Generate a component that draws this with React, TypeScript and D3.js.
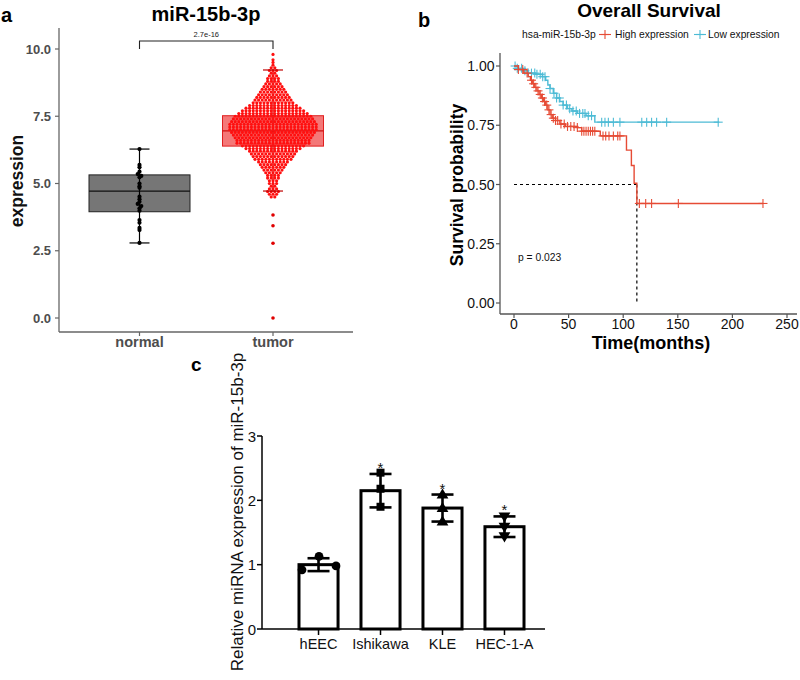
import React from 'react';
import * as d3 from 'd3';

const FONT = "'Liberation Sans', Arial, Helvetica, sans-serif";

// ---------- Panel a data ----------
const groups = ['normal', 'tumor'];
const boxQ1 = [3.95, 6.39];
const boxMedian = [4.72, 6.96];
const boxQ3 = [5.32, 7.52];
const whiskerLow = [2.79, 4.72];
const whiskerHigh = [6.28, 9.22];
const yTicksA = [0, 2.5, 5, 7.5, 10];
const normalValues = [6.28, 5.69, 5.6, 5.44, 5.35, 5.28, 5.23, 5.0, 4.9, 4.84, 4.51, 4.41, 4.32, 4.24, 4.16, 4.08, 3.99, 3.64, 3.54, 3.35, 3.27, 2.79];
const tumorBinStart = 4.5;
const tumorBinStep = 0.1;
const tumorBinCounts = [2, 3, 4, 3, 2, 3, 3, 4, 4, 5, 6, 7, 8, 9, 11, 12, 13, 14, 16, 18, 21, 21, 22, 23, 24, 25, 25, 25, 24, 23, 22, 20, 18, 16, 14, 12, 11, 10, 9, 8, 7, 6, 5, 4, 4, 3, 2, 3, 2, 1, 1, 1, 0, 1];
const tumorOutliers = [3.83, 3.43, 2.78, 0.0];
const pValueA = '2.7e-16';

// ---------- Panel b data ----------
const highSteps: [number, number][] = [[0, 1.0], [4, 0.985], [9, 0.97], [13, 0.955], [15, 0.94], [17, 0.925], [19, 0.91], [21, 0.895], [23, 0.88], [25, 0.865], [27, 0.85], [29, 0.835], [31, 0.815], [33, 0.795], [35, 0.78], [38, 0.77], [42, 0.755], [47, 0.745], [58, 0.74], [62, 0.725], [79, 0.705], [103, 0.645], [107.5, 0.58], [110, 0.505], [112.5, 0.42]];
const highEnd = 228;
const highCensor = [4, 8, 12, 16, 18, 20, 22, 24, 26, 28, 30, 32, 34, 36, 38, 40, 43, 46, 49, 52, 55, 58, 62, 64, 66, 68, 70, 72, 74, 81.5, 84, 87, 91, 95, 97, 114.8, 120.6, 126, 150.5, 228];
const lowSteps: [number, number][] = [[0, 1.0], [3, 0.99], [8, 0.98], [13, 0.97], [20, 0.965], [26, 0.955], [29, 0.94], [31, 0.92], [33, 0.905], [36, 0.885], [39, 0.865], [42, 0.85], [45, 0.835], [49, 0.82], [53, 0.81], [58, 0.8], [66, 0.79], [74, 0.763]];
const lowEnd = 188;
const lowCensor = [1, 3, 7, 10, 13, 16, 19, 21, 24, 26.3, 28.4, 33, 36.6, 39, 41.5, 45, 48, 51, 54, 57, 60, 63, 65, 68, 71, 80.3, 83.3, 86.4, 91, 97, 117, 121.5, 126, 130.6, 139.8, 187];
const medianTime = 112.5;
const xTicksB = [0, 50, 100, 150, 200, 250];
const yTicksB = [0, 0.25, 0.5, 0.75, 1.0];
const pValueB = 'p = 0.023';

// ---------- Panel c data ----------
const cellLines = ['hEEC', 'Ishikawa', 'KLE', 'HEC-1-A'];
const cellMeans = [1.0, 2.15, 1.88, 1.59];
const cellSD = [0.1, 0.26, 0.21, 0.16];
const cellReplicates = [[0.92, 1.13, 0.98], [2.43, 2.18, 1.9], [2.08, 1.87, 1.66], [1.76, 1.6, 1.45]];
const cellStars = ['', '*', '*', '*'];
const yTicksC = [0, 1, 2, 3];

const RED = '#E64B35';
const BLUE = '#4DBBD5';

function stackDots(values: number[], step: number) {
  // dotplot: group values into bins, stack centered horizontally
  const m = new Map<number, number[]>();
  values.forEach(v => {
    const k = Math.round(v / step);
    if (!m.has(k)) m.set(k, []);
    m.get(k)!.push(v);
  });
  const out: { v: number; i: number; n: number }[] = [];
  m.forEach(arr => arr.forEach((v, i) => out.push({ v, i, n: arr.length })));
  return out;
}

function survAt(steps: [number, number][], t: number) {
  let s = steps[0][1];
  for (const [tt, ss] of steps) { if (tt <= t) s = ss; }
  return s;
}

export default function App() {
  // ---- panel a scales
  const ya = d3.scaleLinear().domain([0, 10]).range([318, 49]);
  const xa = d3.scalePoint<string>().domain(groups).range([139.5, 273]);
  const boxHalf = 50.5;
  const capHalf = 10;
  const dotSpacing = 3.6;

  const tumorValues: number[] = [];
  tumorBinCounts.forEach((c, i) => {
    for (let k = 0; k < c; k++) tumorValues.push(+(tumorBinStart + i * tumorBinStep).toFixed(2));
  });
  const tumorDots = stackDots(tumorValues, tumorBinStep);
  const normalDots = stackDots(normalValues, 0.1);

  // ---- panel b scales
  const xb = d3.scaleLinear().domain([0, 250]).range([514, 787]);
  const yb = d3.scaleLinear().domain([0, 1]).range([303, 66]);
  const stepLine = d3.line<[number, number]>().x(d => xb(d[0])).y(d => yb(d[1])).curve(d3.curveStepAfter);
  const highPath = stepLine([...highSteps, [highEnd, highSteps[highSteps.length - 1][1]]]);
  const lowPath = stepLine([...lowSteps, [lowEnd, lowSteps[lowSteps.length - 1][1]]]);

  // ---- panel c scales
  const xc = d3.scaleBand<string>().domain(cellLines).range([280.4, 542.6]).paddingInner(0.37).paddingOuter(0.3);
  const yc = d3.scaleLinear().domain([0, 3]).range([629, 436]);
  const symbols = [d3.symbolCircle, d3.symbolSquare, d3.symbolTriangle, d3.symbolTriangle];
  const symSize = [60, 64, 60, 60];

  const plus = (cx: number, cy: number, color: string, key: string, h = 4.5) => (
    <g key={key} stroke={color} strokeWidth={1.1}>
      <line x1={cx} x2={cx} y1={cy - h} y2={cy + h} />
      <line x1={cx - h} x2={cx + h} y1={cy} y2={cy} />
    </g>
  );

  return (
    <svg width={800} height={680} style={{ position: 'absolute', left: 0, top: 0, background: '#fff' }} fontFamily={FONT}>
      {/* ================= Panel a ================= */}
      <text x={1} y={22} fontSize={20} fontWeight="bold">a</text>
      <text x={206} y={21} fontSize={20} fontWeight="bold" textAnchor="middle">miR-15b-3p</text>
      <text transform="translate(23,181) rotate(-90)" fontSize={17.5} fontWeight="bold" textAnchor="middle" fill="#111">expression</text>
      {/* axes */}
      <line x1={59} x2={59} y1={28} y2={332} stroke="#666" strokeWidth={1.3} />
      <line x1={59} x2={353} y1={332} y2={332} stroke="#666" strokeWidth={1.3} />
      {yTicksA.map(t => (
        <g key={'ya' + t}>
          <line x1={55} x2={59} y1={ya(t)} y2={ya(t)} stroke="#666" strokeWidth={1.2} />
          <text x={51} y={ya(t) + 4.5} fontSize={13} fontWeight="bold" textAnchor="end" fill="#4d4d4d">{t.toFixed(1)}</text>
        </g>
      ))}
      {groups.map(g => (
        <g key={'xa' + g}>
          <line x1={xa(g)!} x2={xa(g)!} y1={332} y2={336} stroke="#666" strokeWidth={1.2} />
          <text x={xa(g)!} y={347} fontSize={14.5} fontWeight="bold" textAnchor="middle" fill="#4d4d4d">{g}</text>
        </g>
      ))}
      {/* normal box */}
      {(() => {
        const cx = xa('normal')!;
        return (
          <g>
            <rect x={cx - boxHalf} width={boxHalf * 2} y={ya(boxQ3[0])} height={ya(boxQ1[0]) - ya(boxQ3[0])} fill="#767676" stroke="#222" strokeWidth={1} />
            <line x1={cx - boxHalf} x2={cx + boxHalf} y1={ya(boxMedian[0])} y2={ya(boxMedian[0])} stroke="#111" strokeWidth={1.3} />
            <line x1={cx} x2={cx} y1={ya(whiskerLow[0])} y2={ya(whiskerHigh[0])} stroke="#000" strokeWidth={1.2} />
            {[whiskerLow[0], whiskerHigh[0]].map((w, i) => (
              <line key={'nc' + i} x1={cx - capHalf} x2={cx + capHalf} y1={ya(w)} y2={ya(w)} stroke="#000" strokeWidth={1.2} />
            ))}
            {normalDots.map((d, i) => (
              <circle key={'nd' + i} cx={cx + (d.i - (d.n - 1) / 2) * dotSpacing} cy={ya(d.v)} r={2.1} fill="#000" />
            ))}
          </g>
        );
      })()}
      {/* tumor box */}
      {(() => {
        const cx = xa('tumor')!;
        return (
          <g>
            <rect x={cx - boxHalf} width={boxHalf * 2} y={ya(boxQ3[1])} height={ya(boxQ1[1]) - ya(boxQ3[1])} fill="#F47878" stroke="#E02020" strokeWidth={1} />
            <line x1={cx - boxHalf} x2={cx + boxHalf} y1={ya(boxMedian[1])} y2={ya(boxMedian[1])} stroke="#D01010" strokeWidth={1.2} />
            <line x1={cx} x2={cx} y1={ya(whiskerLow[1])} y2={ya(whiskerHigh[1])} stroke="#D00000" strokeWidth={1.2} />
            {tumorDots.map((d, i) => (
              <circle key={'td' + i} cx={cx + (d.i - (d.n - 1) / 2) * dotSpacing} cy={ya(d.v)} r={1.6} fill="#FF1010" />
            ))}
            {tumorOutliers.map((v, i) => (
              <circle key={'to' + i} cx={cx} cy={ya(v)} r={1.8} fill="#E00000" />
            ))}
            {[whiskerLow[1], whiskerHigh[1]].map((w, i) => (
              <line key={'tc' + i} x1={cx - capHalf} x2={cx + capHalf} y1={ya(w)} y2={ya(w)} stroke="#C00000" strokeWidth={1.2} />
            ))}
          </g>
        );
      })()}
      {/* significance bracket */}
      <path d={`M${xa('normal')},${ya(10)} V41 H${xa('tumor')} V${ya(10)}`} fill="none" stroke="#222" strokeWidth={1.1} />
      <text x={(xa('normal')! + xa('tumor')!) / 2} y={37} fontSize={7.5} textAnchor="middle" fill="#222">{pValueA}</text>

      {/* ================= Panel b ================= */}
      <text x={418} y={27} fontSize={20} fontWeight="bold">b</text>
      <text x={649} y={17} fontSize={19} fontWeight="bold" textAnchor="middle">Overall Survival</text>
      {/* legend */}
      <text x={522} y={38} fontSize={10.3} fill="#111">hsa-miR-15b-3p</text>
      {plus(605, 34.5, RED, 'lgr', 4.5)}
      <line x1={599} x2={611} y1={34.5} y2={34.5} stroke={RED} strokeWidth={1.1} />
      <text x={615} y={38} fontSize={10.3} fill="#111">High expression</text>
      {plus(700, 34.5, BLUE, 'lgb', 4.5)}
      <line x1={694} x2={706} y1={34.5} y2={34.5} stroke={BLUE} strokeWidth={1.1} />
      <text x={708} y={38} fontSize={10.3} fill="#111">Low expression</text>
      {/* axes */}
      <line x1={500} x2={500} y1={53} y2={314} stroke="#555" strokeWidth={1.3} />
      <line x1={500} x2={797} y1={314} y2={314} stroke="#555" strokeWidth={1.3} />
      {yTicksB.map(t => (
        <g key={'yb' + t}>
          <line x1={496} x2={500} y1={yb(t)} y2={yb(t)} stroke="#555" strokeWidth={1.2} />
          <text x={494.5} y={yb(t) + 5} fontSize={14} textAnchor="end" fill="#111">{t.toFixed(2)}</text>
        </g>
      ))}
      {xTicksB.map(t => (
        <g key={'xb' + t}>
          <line x1={xb(t)} x2={xb(t)} y1={314} y2={318} stroke="#555" strokeWidth={1.2} />
          <text x={xb(t)} y={329} fontSize={14} textAnchor="middle" fill="#111">{t}</text>
        </g>
      ))}
      <text x={651} y={349} fontSize={18} fontWeight="bold" textAnchor="middle">Time(months)</text>
      <text transform="translate(463,185) rotate(-90)" fontSize={17.5} fontWeight="bold" textAnchor="middle">Survival probability</text>
      {/* median lines */}
      <line x1={xb(0)} x2={xb(medianTime)} y1={yb(0.5)} y2={yb(0.5)} stroke="#000" strokeWidth={1.2} strokeDasharray="3,3" />
      <line x1={xb(medianTime)} x2={xb(medianTime)} y1={yb(0.5)} y2={yb(0)} stroke="#000" strokeWidth={1.2} strokeDasharray="3,3" />
      {/* curves */}
      <path d={lowPath!} fill="none" stroke={BLUE} strokeWidth={1.4} />
      {lowCensor.map((t, i) => plus(xb(t), yb(survAt(lowSteps, t)), BLUE, 'lc' + i))}
      <path d={highPath!} fill="none" stroke={RED} strokeWidth={1.4} />
      {highCensor.map((t, i) => plus(xb(t), yb(survAt(highSteps, t)), RED, 'hc' + i))}
      <text x={518} y={261} fontSize={10.3} fill="#111">{pValueB}</text>

      {/* ================= Panel c ================= */}
      <text x={191} y={371} fontSize={19} fontWeight="bold">c</text>
      <text transform="translate(242.5,512) rotate(-90)" fontSize={17} textAnchor="middle" fill="#111">Relative miRNA expression of miR-15b-3p</text>
      <line x1={262} x2={262} y1={436} y2={629} stroke="#000" strokeWidth={1.5} />
      <line x1={262} x2={545} y1={629} y2={629} stroke="#000" strokeWidth={1.5} />
      {yTicksC.map(t => (
        <g key={'yc' + t}>
          <line x1={257} x2={262} y1={yc(t)} y2={yc(t)} stroke="#000" strokeWidth={1.5} />
          <text x={256} y={yc(t) + 5.5} fontSize={15} textAnchor="end" fill="#111">{t}</text>
        </g>
      ))}
      {cellLines.map((c, gi) => {
        const x0 = xc(c)!;
        const bw = xc.bandwidth();
        const cx = x0 + bw / 2;
        const hi = cellMeans[gi] + cellSD[gi];
        const lo = cellMeans[gi] - cellSD[gi];
        const sym = d3.symbol().type(symbols[gi]).size(symSize[gi])();
        return (
          <g key={'bar' + c}>
            <line x1={cx} x2={cx} y1={629} y2={635} stroke="#000" strokeWidth={1.5} />
            <text x={cx} y={649} fontSize={14.5} textAnchor="middle" fill="#111">{c}</text>
            <rect x={x0} width={bw} y={yc(cellMeans[gi])} height={yc(0) - yc(cellMeans[gi])} fill="#fff" stroke="#000" strokeWidth={3} />
            <line x1={cx} x2={cx} y1={yc(lo)} y2={yc(hi)} stroke="#000" strokeWidth={2.6} />
            <line x1={cx - 11} x2={cx + 11} y1={yc(hi)} y2={yc(hi)} stroke="#000" strokeWidth={2.6} />
            <line x1={cx - 11} x2={cx + 11} y1={yc(lo)} y2={yc(lo)} stroke="#000" strokeWidth={2.6} />
            {cellReplicates[gi].map((v, ri) => {
              const px = gi === 0 ? cx + (ri === 0 ? -16.5 : ri === 1 ? 0.5 : 17.5) : cx;
              const rot = gi === 3 ? 180 : 0;
              return <path key={'r' + ri} d={sym!} transform={`translate(${px},${yc(v)}) rotate(${rot})`} fill="#000" />;
            })}
            {cellStars[gi] && (
              <text x={cx} y={yc(hi) - 1} fontSize={15} textAnchor="middle" fill="#111">{cellStars[gi]}</text>
            )}
          </g>
        );
      })}
    </svg>
  );
}
